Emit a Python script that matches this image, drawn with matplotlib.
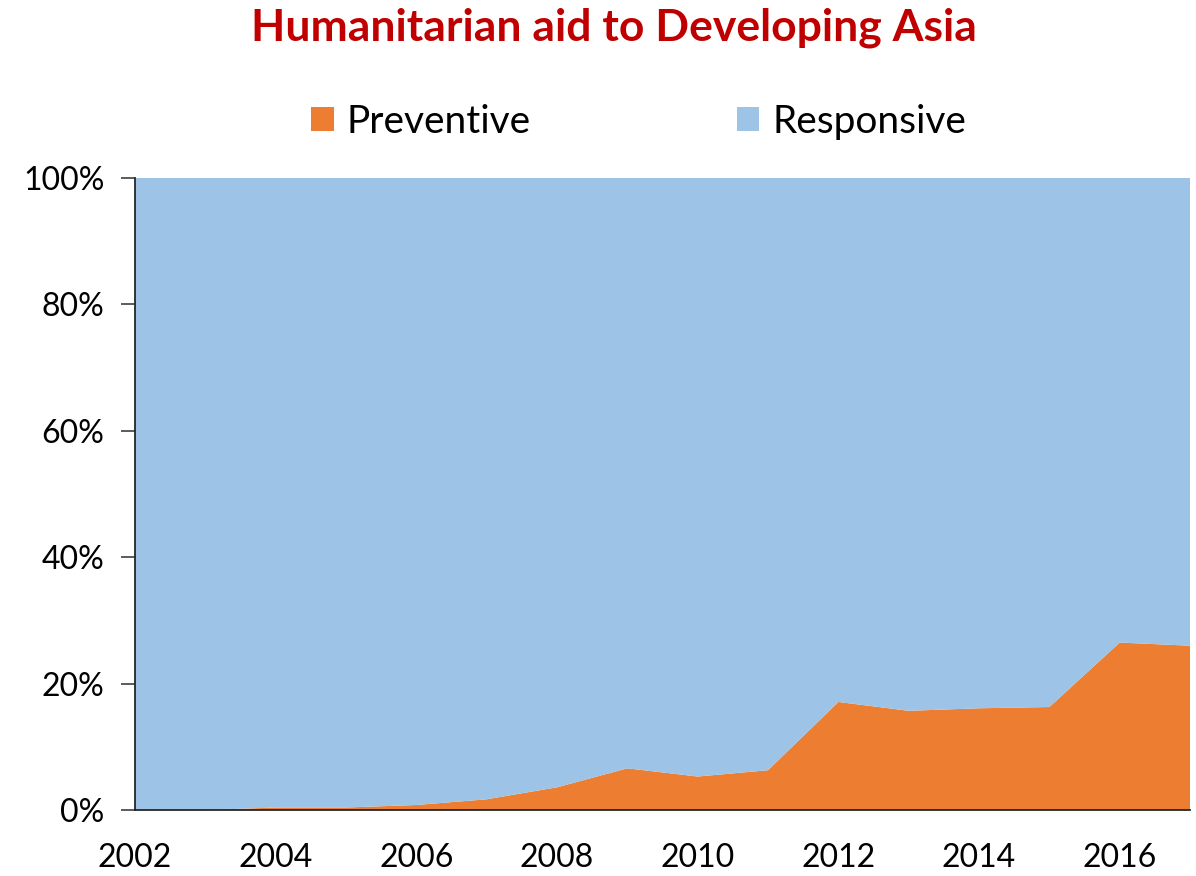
import numpy as np
import matplotlib.pyplot as plt
from matplotlib.patches import Patch

years = [2002, 2003, 2004, 2005, 2006, 2007, 2008, 2009,
         2010, 2011, 2012, 2013, 2014, 2015, 2016, 2017]
preventive = [0.0, 0.0, 0.4, 0.4, 0.8, 1.7, 3.6, 6.6,
              5.3, 6.3, 17.1, 15.7, 16.1, 16.3, 26.5, 26.0]
responsive = [100.0, 100.0, 99.6, 99.6, 99.2, 98.3, 96.4, 93.4,
              94.7, 93.7, 82.9, 84.3, 83.9, 83.7, 73.5, 74.0]
series_names = ["Preventive", "Responsive"]
colors = ["#ED7D31", "#9DC3E6"]
tick_years = [2002, 2004, 2006, 2008, 2010, 2012, 2014, 2016]
pct_ticks = [0, 20, 40, 60, 80, 100]

plt.rcParams['font.family'] = ['Lato', 'DejaVu Sans']

fig = plt.figure(figsize=(11.96, 8.76), dpi=100)
ax = fig.add_axes([0.1129, 0.0753, 0.8821, 0.7215])

ax.stackplot(years, preventive, responsive, colors=colors, lw=0)
ax.set_xlim(2002, 2017)
ax.set_ylim(0, 100)

ax.set_xticks(tick_years)
ax.set_xticklabels([str(y) for y in tick_years], fontsize=23)
ax.set_yticks(pct_ticks)
ax.set_yticklabels([f"{p}%" for p in pct_ticks], fontsize=23)
ax.tick_params(axis='x', length=0, pad=24)
ax.tick_params(axis='y', length=10, width=1.2, color='#404040', pad=12)

for s in ['top', 'right']:
    ax.spines[s].set_visible(False)
for s in ['left', 'bottom']:
    ax.spines[s].set_color('#262626')
    ax.spines[s].set_linewidth(1.3)

fig.text(0.513, 0.968, "Humanitarian aid to Developing Asia", ha='center', va='center',
         fontsize=32, fontweight='bold', color='#C00000')

handles = [Patch(facecolor=c, edgecolor='none') for c in colors]
fig.legend(handles, series_names, loc='center', bbox_to_anchor=(0.534, 0.861), ncol=2,
           frameon=False, fontsize=28, handlelength=0.58, handleheight=0.6,
           handletextpad=0.33, columnspacing=5.3)

fig.savefig("out.png", dpi=100)
